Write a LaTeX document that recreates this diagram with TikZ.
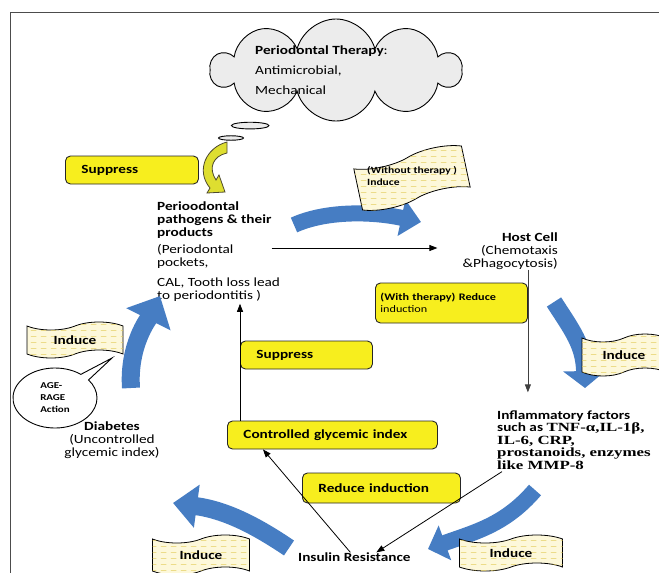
\documentclass[tikz,border=0pt]{standalone}
\usepackage{fontspec}
\setmainfont{Carlito}[FakeStretch=1.22]
\newfontfamily\tnr{Liberation Serif}[FakeStretch=1.35]
\usetikzlibrary{shapes.symbols,shapes.callouts,arrows.meta,patterns.meta}

\definecolor{boxyellow}{RGB}{247,238,30}
\definecolor{tapecream}{RGB}{253,248,218}
\definecolor{tapedash}{RGB}{228,205,95}
\definecolor{flowblue}{RGB}{70,125,195}
\definecolor{arrowyellow}{RGB}{222,222,48}
\definecolor{cloudgray}{RGB}{236,236,236}

\tikzdeclarepattern{
  name=dashrows, type=uncolored,
  bottom left={(0pt,0pt)}, top right={(10pt,6pt)},
  tile size={(10pt,6pt)},
  code={\draw[line width=0.8pt] (1pt,3pt) -- (7pt,3pt);}
}

\tikzset{
  lbl/.style={font=\fontsize{12.5}{13}\selectfont, inner sep=0pt},
  lblb/.style={inner sep=0pt, font=\fontsize{12.5}{13}\selectfont\bfseries},
  ybox/.style={draw=black!85, line width=0.9pt, fill=boxyellow, rounded corners=5pt,
    minimum height=28pt, inner xsep=16pt, text width=#1, align=left, anchor=west,
    font=\fontsize{12.5}{13}\selectfont\bfseries},
  flag/.style={tape, draw=black, line width=0.8pt, fill=tapecream,
    postaction={pattern=dashrows, pattern color=tapedash},
    tape bend height=8pt, inner sep=0pt, font=\fontsize{12.5}{13}\selectfont\bfseries},
  bigarrow/.style={flowblue, line width=16pt}
}

\begin{document}
\begin{tikzpicture}[x=1pt,y=-1pt,>={Triangle[length=8pt,width=6pt]}]
\useasboundingbox (0,0) rectangle (659,573);
\clip (0,0) rectangle (659,573);
% frame
\draw[black!70,line width=0.8pt] (659,12) -- (10,12) -- (10,573);

% therapy cloud
\node[cloud callout, cloud puffs=10, aspect=2.4, draw, line width=0.9pt, fill=cloudgray,
  minimum width=250pt, minimum height=102pt, callout absolute pointer={(231,138)}] (cloud) at (336,70) {};
\node[lbl, anchor=west, align=left, font=\fontsize{12.5}{20}\selectfont] (therapy) at (255,70)
  {\textbf{Periodontal Therapy}:\\Antimicrobial,\\Mechanical};

% top left
\node[ybox=101pt] (supptop) at (65,170) {Suppress};
\filldraw[fill=arrowyellow, draw=black!60!olive, line width=0.8pt]
  (227,142) .. controls (207,147) and (195,170) .. (210,188) -- (207,193) -- (225,192)
  -- (219,175) -- (216,180) .. controls (208,168) and (213,156) .. (227,153) -- cycle;
\node[lblb, anchor=west, align=left] (patho) at (157,220) {Perioodontal\\pathogens \& their\\products};
\node[lbl, anchor=west, align=left] (pocket) at (157,273)
  {(Periodontal\\pockets,\\[7pt]CAL, Tooth loss lead\\to periodontitis )};

% blue arrows
\coordinate (b1s) at (294,225); \coordinate (b1e) at (421,222);
\coordinate (b2s) at (554,302); \coordinate (b2e) at (585,388);
\coordinate (b3s) at (535,490); \coordinate (b3e) at (428,549);
\coordinate (b4s) at (289,548); \coordinate (b4e) at (173,503);
\coordinate (b5s) at (131,388); \coordinate (b5e) at (160,296);
\draw[bigarrow, -{Triangle[length=20pt,width=36pt]}] (b1s) .. controls (325,211) and (370,211) .. (b1e);
\draw[bigarrow, line width=17pt, -{Triangle[length=17pt,width=42pt]}] (b2s) .. controls (572,330) and (584,345) .. (b2e);
\draw[bigarrow, -{Triangle[length=18pt,width=36pt]}] (b3s) .. controls (505,525) and (475,532) .. (b3e);
\draw[bigarrow, line width=18pt, -{Triangle[length=24pt,width=42pt]}] (b4s) .. controls (255,525) and (225,510) .. (b4e);
\draw[bigarrow, line width=18pt, -{Triangle[length=26pt,width=48pt]}] (b5s) .. controls (128,345) and (149,318) .. (b5e);

% flags
\node[flag, minimum width=110pt, minimum height=50pt, rotate=12] (flagtop) at (412,178) {};
\node[anchor=west, align=left, inner sep=0pt, font=\fontsize{9.5}{12}\selectfont\bfseries] (wotext) at (367,176)
  {(Without therapy )\\Induce};
\node[flag, minimum width=84pt, minimum height=42pt] (flagR) at (624,355) {Induce};
\node[flag, minimum width=96pt, minimum height=36pt] (flagL) at (75,340) {Induce};
\node[flag, minimum width=97pt, minimum height=40pt] (flagBL) at (201,555) {Induce};
\node[flag, minimum width=103pt, minimum height=36pt] (flagBR) at (511,553) {Induce};

% right side
\node[lbl, align=right, anchor=east] (hostcell) at (558,251)
  {\textbf{Host Cell}\\(Chemotaxis\\\&Phagocytosis)};
\node[ybox=142pt, inner xsep=5pt, minimum height=40pt, font=\fontsize{10}{12}\selectfont] (withbox) at (375,303)
  {\textbf{(With therapy) Reduce}\\induction};
\node[lblb, align=left, anchor=west, font=\fontsize{12.5}{12.5}\selectfont\bfseries] (inflam) at (497,440)
  {Inflammatory factors\\such as {\tnr TNF-α,IL-1β,}\\{\tnr IL-6, CRP,}\\{\tnr prostanoids, enzymes}\\{\tnr like MMP-8}};

% middle and bottom
\node[ybox=100pt] (suppmid) at (240,355) {Suppress};
\node[ybox=178pt] (controlled) at (227,435) {Controlled glycemic index};
\node[ybox=126pt, minimum height=30pt] (reduce) at (302,488) {Reduce induction};
\node[lblb, anchor=west] (insulin) at (298,557) {Insulin Resistance};
\node[lbl, align=center] (diabetes) at (112,440) {\textbf{Diabetes}\\(Uncontrolled\\glycemic index)};
\node[ellipse callout, draw, line width=0.9pt, fill=white, minimum width=84pt, minimum height=60pt,
  callout absolute pointer={(112,358)}, align=left, inner sep=0pt,
  font=\fontsize{9}{12}\selectfont\bfseries] (agerage) at (55,398) {AGE-\\RAGE\\Action};

% thin arrows
\draw[->, line width=0.8pt] ([yshift=3pt]patho.east |- hostcell.west) -- ([xshift=-25pt,yshift=3pt]hostcell.west);
\draw[->, line width=0.8pt, black!75] (withbox.east |- hostcell.south) -- ([yshift=18pt]withbox.east |- inflam.north);
\draw[->, line width=0.8pt] ([xshift=5pt,yshift=-2pt]inflam.south west) -- ([xshift=22pt]insulin.north);
\draw[->, line width=0.8pt] ([xshift=-4pt]insulin.north) -- ([xshift=36pt]controlled.south west);
\draw[->, line width=0.8pt] (suppmid.west |- controlled.north) -- ([yshift=-2pt]suppmid.west |- pocket.south);
\end{tikzpicture}
\end{document}
